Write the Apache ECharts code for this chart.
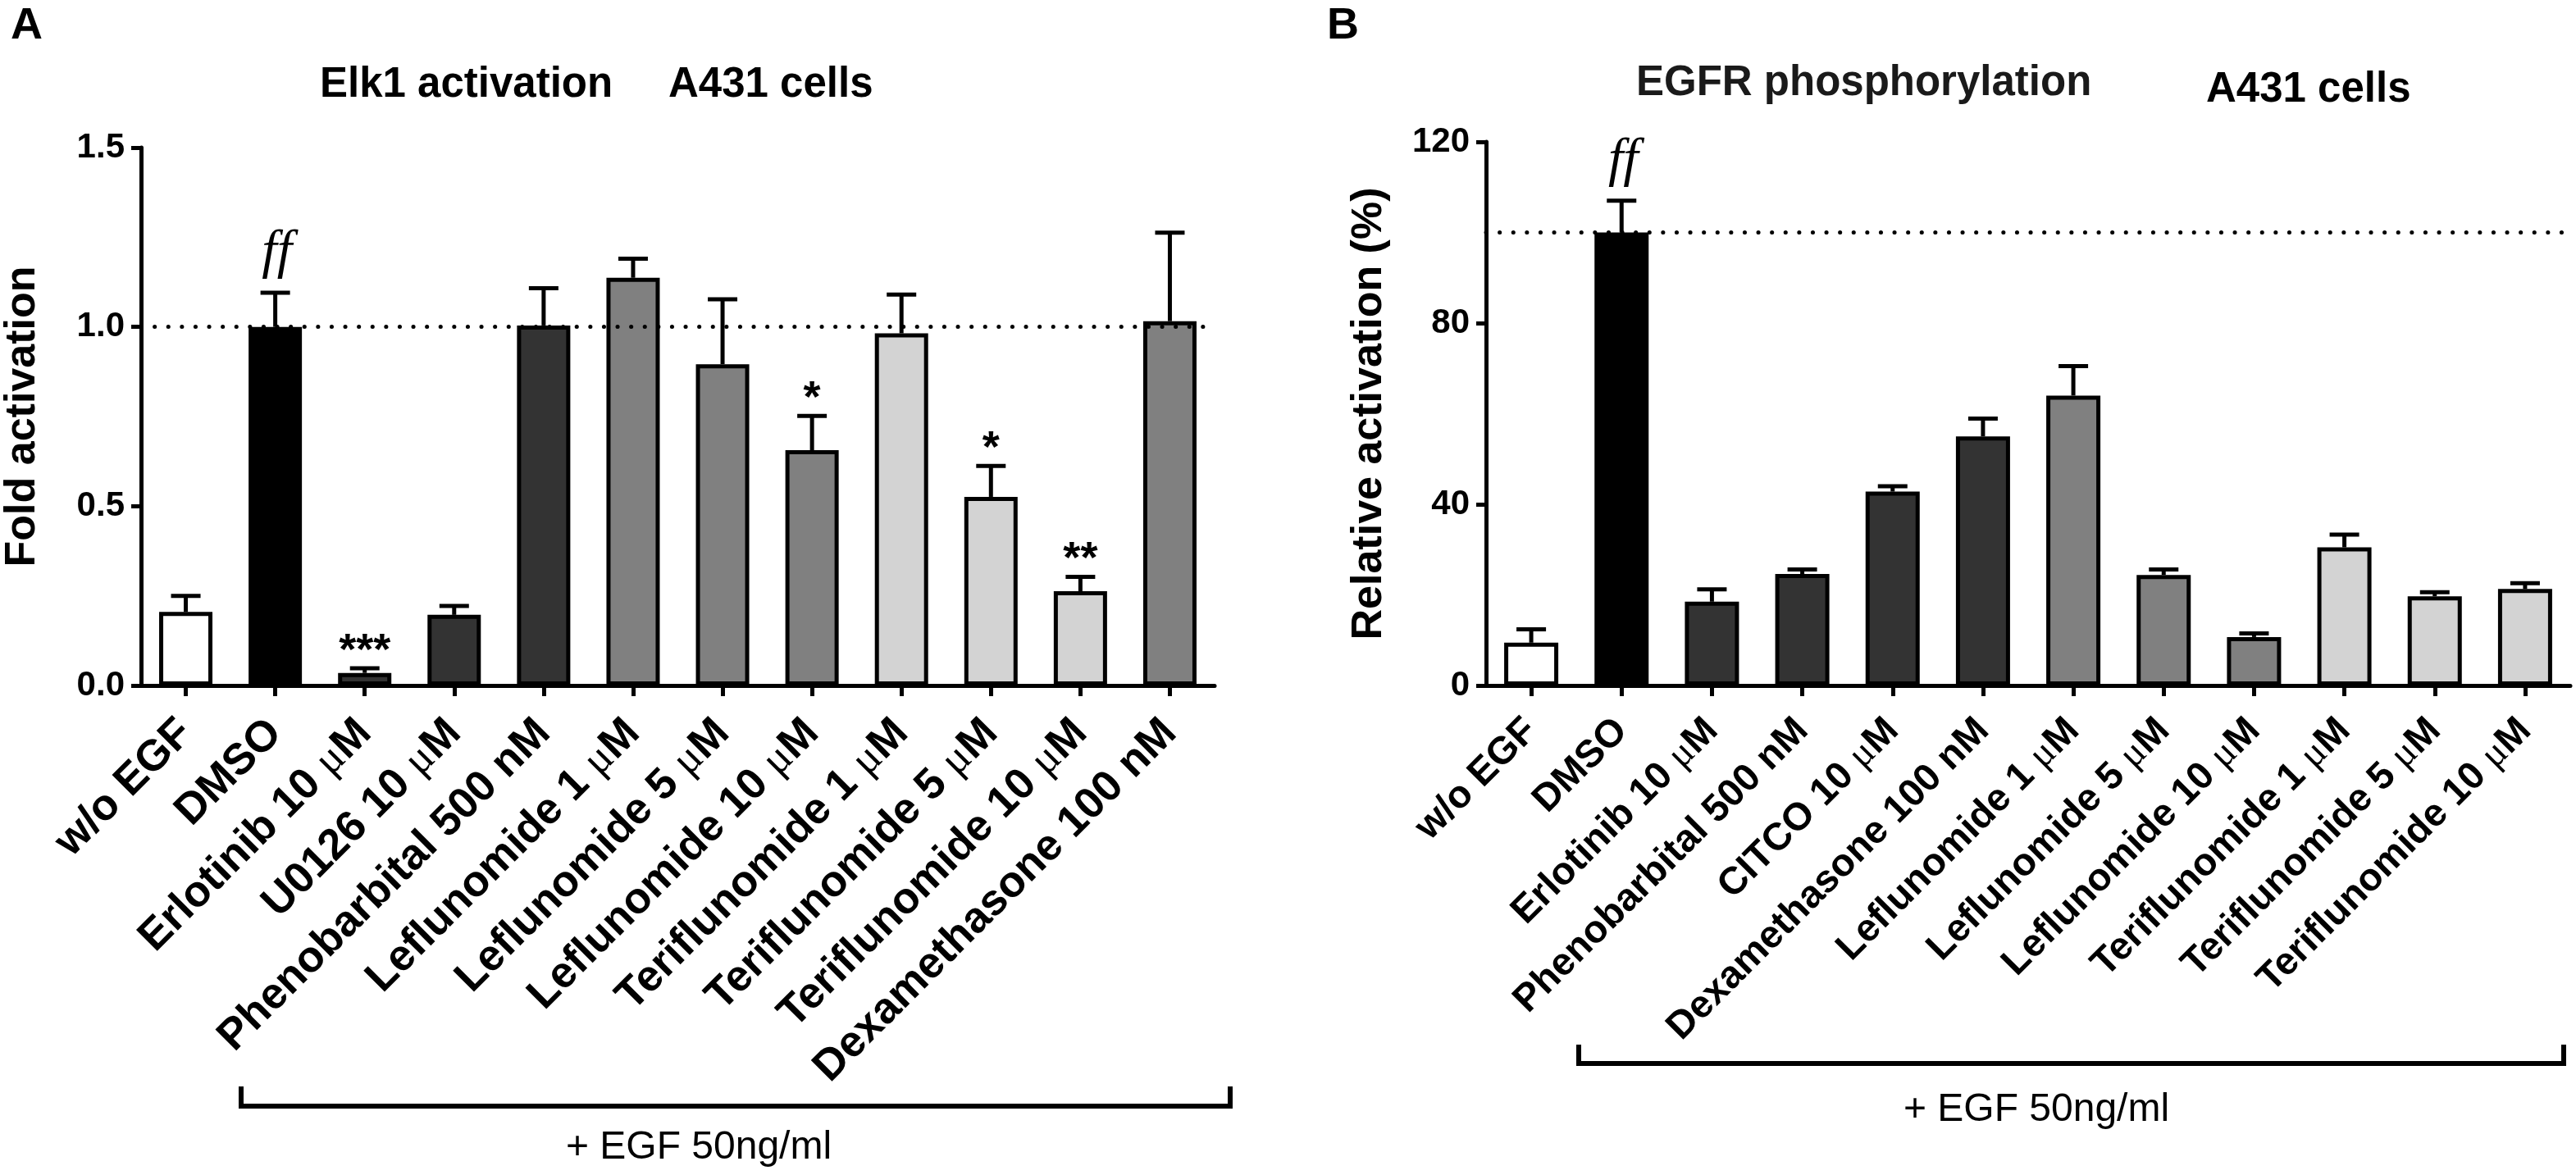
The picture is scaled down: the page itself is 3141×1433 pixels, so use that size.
<!DOCTYPE html>
<html>
<head>
<meta charset="utf-8">
<script src="https://cdn.jsdelivr.net/npm/echarts@6/dist/echarts.min.js"></script>
<style>
html,body{margin:0;padding:0;background:#fff;}
#chart{width:3141px;height:1433px;}
</style>
</head>
<body>
<div id="chart"></div>
<script>
// ---------- Data ----------
const catsA = ['w/o EGF', 'DMSO', 'Erlotinib 10 μM', 'U0126 10 μM', 'Phenobarbital 500 nM',
  'Leflunomide 1 μM', 'Leflunomide 5 μM', 'Leflunomide 10 μM', 'Teriflunomide 1 μM',
  'Teriflunomide 5 μM', 'Teriflunomide 10 μM', 'Dexamethasone 100 nM'];
const valsA = [0.205, 1.0, 0.035, 0.197, 1.004, 1.137, 0.896, 0.656, 0.982, 0.526, 0.263, 1.016];
const errA  = [0.045, 0.095, 0.013, 0.025, 0.104, 0.053, 0.181, 0.096, 0.108, 0.086, 0.040, 0.247];
const sigA  = ['', 'ff', '***', '', '', '', '', '*', '', '*', '**', ''];

const catsB = ['w/o EGF', 'DMSO', 'Erlotinib 10 μM', 'Phenobarbital 500 nM', 'CITCO 10 μM',
  'Dexamethasone 100 nM', 'Leflunomide 1 μM', 'Leflunomide 5 μM', 'Leflunomide 10 μM',
  'Teriflunomide 1 μM', 'Teriflunomide 5 μM', 'Teriflunomide 10 μM'];
const valsB = [9.45, 100, 18.5, 24.6, 42.8, 55.0, 64.0, 24.4, 10.7, 30.5, 19.7, 21.3];
const errB  = [2.95, 7.0, 2.7, 1.0, 1.2, 3.9, 6.5, 1.2, 0.8, 2.8, 0.9, 1.3];
const sigB  = ['', 'ff', '', '', '', '', '', '', '', '', '', ''];

const refA = 1.0;   // dotted reference line
const refB = 100;

// ---------- Styles ----------
const colorsA = ['#ffffff', '#000000', '#333333', '#333333', '#333333', '#808080',
  '#808080', '#808080', '#d3d3d3', '#d3d3d3', '#d3d3d3', '#808080'];
const colorsB = ['#ffffff', '#000000', '#333333', '#333333', '#333333', '#333333',
  '#808080', '#808080', '#808080', '#d3d3d3', '#d3d3d3', '#d3d3d3'];

const FONT = "'Liberation Sans', Arial, Helvetica, sans-serif";
const SERIF = "'Liberation Serif', 'Times New Roman', serif";
const LW = 5;

const chart = echarts.init(document.getElementById('chart'), null, {renderer: 'canvas'});

function labelFmt(v) {
  const k = v.indexOf('μ');
  if (k < 0) return '{t|' + v + '}';
  return '{t|' + v.slice(0, k) + '}{mu|μ}{t|' + v.slice(k + 1) + '}';
}

function xAxisFor(gridIndex, cats, fs, margin) {
  return {
    type: 'category', gridIndex: gridIndex, data: cats,
    axisLine: {show: true, lineStyle: {color: '#000', width: LW}},
    axisTick: {show: true, alignWithLabel: true, length: 13, lineStyle: {color: '#000', width: LW}},
    axisLabel: {
      interval: 0, rotate: 45, margin: margin, color: '#000',
      formatter: labelFmt,
      rich: {
        t: {fontFamily: FONT, fontWeight: 'bold', fontSize: fs, color: '#000'},
        mu: {fontFamily: SERIF, fontWeight: 'normal', fontSize: fs, color: '#000'}
      }
    },
    splitLine: {show: false}
  };
}

function yAxisFor(gridIndex, max, interval, name, gap, fmt) {
  return {
    type: 'value', gridIndex: gridIndex, min: 0, max: max, interval: interval,
    name: name, nameLocation: 'middle', nameGap: gap, nameRotate: 90,
    nameTextStyle: {fontFamily: FONT, fontWeight: 'bold', fontSize: 52, color: '#000'},
    axisLine: {show: true, lineStyle: {color: '#000', width: LW}},
    axisTick: {show: true, length: 12, lineStyle: {color: '#000', width: LW}},
    axisLabel: {color: '#000', fontFamily: FONT, fontWeight: 'bold', fontSize: 42, margin: 20, formatter: fmt},
    splitLine: {show: false}
  };
}

function barSeries(axisIndex, vals, colors, barWidth) {
  return {
    type: 'bar', xAxisIndex: axisIndex, yAxisIndex: axisIndex, z: 3,
    barWidth: barWidth,
    data: vals.map((v, i) => ({
      value: v,
      itemStyle: {color: colors[i], borderColor: '#000', borderWidth: LW}
    })),
    animation: false
  };
}

function refSeries(axisIndex, refVal, n) {
  return {
    type: 'line', xAxisIndex: axisIndex, yAxisIndex: axisIndex, z: 1,
    data: new Array(n).fill(null), symbol: 'none', silent: true, animation: false,
    markLine: {
      silent: true, symbol: ['none', 'none'], animation: false,
      label: {show: false},
      lineStyle: {color: '#000', width: 5, type: [0.1, 16.5], cap: 'round'},
      data: [{yAxis: refVal}]
    }
  };
}

function errSeries(axisIndex, vals, errs, sigs) {
  return {
    type: 'custom', xAxisIndex: axisIndex, yAxisIndex: axisIndex, z: 5,
    clip: false, animation: false, silent: true,
    encode: {x: 0, y: 1},
    data: vals.map((v, i) => [i, v, errs[i]]),
    renderItem: function (params, api) {
      const i = api.value(0), v = api.value(1), e = api.value(2);
      const p0 = api.coord([i, v]);
      const p1 = api.coord([i, v + e]);
      const half = 18;
      const children = [
        {type: 'line', shape: {x1: p0[0], y1: p0[1], x2: p1[0], y2: p1[1]},
          style: {stroke: '#000', lineWidth: LW}},
        {type: 'line', shape: {x1: p1[0] - half, y1: p1[1], x2: p1[0] + half, y2: p1[1]},
          style: {stroke: '#000', lineWidth: LW}}
      ];
      const s = sigs[params.dataIndex];
      if (s === 'ff') {
        children.push({type: 'text', style: {
          text: s, x: p1[0] + 2, y: p1[1] - 48, textAlign: 'center', textVerticalAlign: 'middle',
          fill: '#000', font: 'italic 66px ' + SERIF}});
      } else if (s) {
        children.push({type: 'text', style: {
          text: s, x: p1[0], y: p1[1] - 20, textAlign: 'center', textVerticalAlign: 'middle',
          fill: '#000', font: 'bold 54px ' + FONT}});
      }
      return {type: 'group', children: children};
    }
  };
}

function txt(x, y, text, font, align, color) {
  return {type: 'text', x: x, y: y, silent: true,
    style: {text: text, font: font, fill: color || '#000', textAlign: align || 'left', textVerticalAlign: 'middle'}};
}

const option = {
  animation: false,
  backgroundColor: '#fff',
  grid: [
    {left: 172, top: 180, width: 1309, height: 656, containLabel: false},
    {left: 1812, top: 173, width: 1322, height: 663, containLabel: false}
  ],
  xAxis: [xAxisFor(0, catsA, 53, 50), xAxisFor(1, catsB, 47, 48)],
  yAxis: [
    yAxisFor(0, 1.5, 0.5, 'Fold activation', 118, v => v.toFixed(1)),
    yAxisFor(1, 120, 40, 'Relative activation (%)', 116, v => String(v))
  ],
  series: [
    refSeries(0, refA, catsA.length),
    barSeries(0, valsA, colorsA, 65),
    errSeries(0, valsA, errA, sigA),
    refSeries(1, refB, catsB.length),
    barSeries(1, valsB, colorsB, 66),
    errSeries(1, valsB, errB, sigB)
  ],
  graphic: [
    txt(13, 32, 'A', 'bold 54px ' + FONT),
    txt(1618, 32, 'B', 'bold 54px ' + FONT),
    txt(390, 104, 'Elk1 activation', 'bold 51px ' + FONT),
    txt(815, 104, 'A431 cells', 'bold 51px ' + FONT),
    {type: 'text', x: 1995, y: 102, silent: true,
      style: {text: 'EGFR phosphorylation', font: 'bold 51px ' + FONT, fill: '#1a1a1a', textAlign: 'left', textVerticalAlign: 'middle'}},
    txt(2690, 110, 'A431 cells', 'bold 51px ' + FONT),
    {type: 'polyline', silent: true, shape: {points: [[294, 1325], [294, 1349], [1500, 1349], [1500, 1325]]},
      style: {stroke: '#000', lineWidth: 6, fill: null}},
    txt(852, 1400, '+ EGF 50ng/ml', '48px ' + FONT, 'center'),
    {type: 'polyline', silent: true, shape: {points: [[1925, 1274], [1925, 1297], [3126, 1297], [3126, 1274]]},
      style: {stroke: '#000', lineWidth: 6, fill: null}},
    txt(2483, 1354, '+ EGF 50ng/ml', '48px ' + FONT, 'center')
  ]
};

chart.setOption(option);
</script>
</body>
</html>
